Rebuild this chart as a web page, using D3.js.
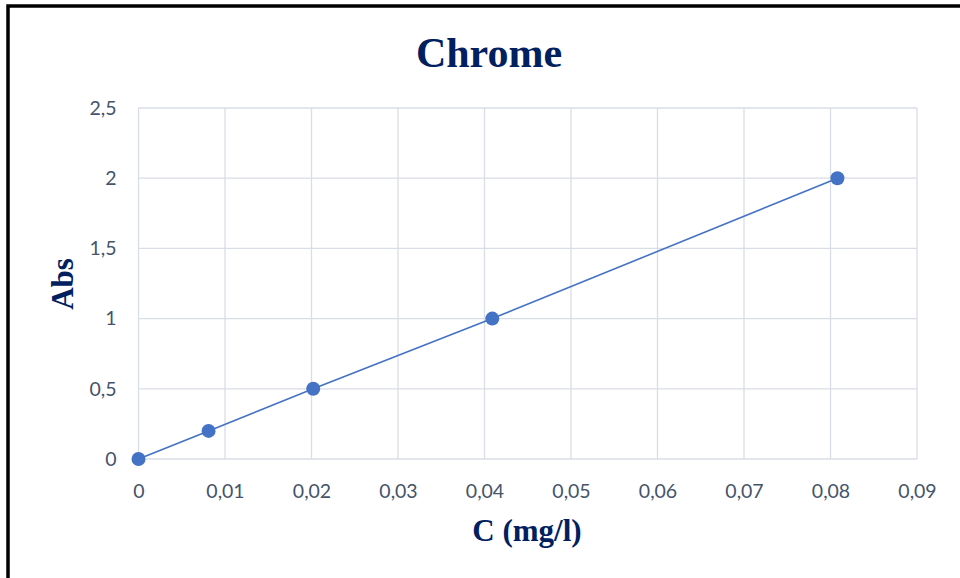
<!DOCTYPE html>
<html>
<head>
<meta charset="utf-8">
<script src="https://cdn.jsdelivr.net/npm/d3@7"></script>
<style>
  html, body { margin: 0; padding: 0; background: #fff; }
  svg { display: block; }
</style>
</head>
<body>
<script>
// Calibration data for chromium
const concentrations = [0, 0.0081, 0.0202, 0.0409, 0.0808];
const absorbances = [0, 0.2, 0.5, 1, 2];
const xTicks = [0, 0.01, 0.02, 0.03, 0.04, 0.05, 0.06, 0.07, 0.08, 0.09];
const yTicks = [0, 0.5, 1, 1.5, 2, 2.5];

const W = 960, H = 578;
const svg = d3.select("body").append("svg").attr("width", W).attr("height", H);

// Outer frame (runs past the right and bottom edges)
svg.append("rect").attr("x", 8).attr("y", 6).attr("width", W + 20).attr("height", H + 20)
  .attr("fill", "none").attr("stroke", "#000").attr("stroke-width", 3.5);

const x = d3.scaleLinear().domain([0, 0.09]).range([138.5, 917]);
const y = d3.scaleLinear().domain([0, 2.5]).range([459, 108]);

const fmt = d => String(+d.toFixed(2)).replace(".", ",");
const gridColor = "#d9dde6";
const textColor = "#44546a";
const font = "Lato, 'Open Sans', sans-serif";

// Gridlines
svg.append("g").selectAll("line").data(xTicks).join("line")
  .attr("x1", d => x(d)).attr("x2", d => x(d))
  .attr("y1", y(2.5)).attr("y2", y(0))
  .attr("stroke", gridColor).attr("stroke-width", 1.3);
svg.append("g").selectAll("line").data(yTicks).join("line")
  .attr("x1", x(0)).attr("x2", x(0.09))
  .attr("y1", d => y(d)).attr("y2", d => y(d))
  .attr("stroke", gridColor).attr("stroke-width", 1.3);

// Axes (labels only)
const xAxis = svg.append("g").attr("transform", `translate(0,${y(0)})`)
  .call(d3.axisBottom(x).tickValues(xTicks).tickFormat(fmt).tickSize(0).tickPadding(25));
const yAxis = svg.append("g").attr("transform", `translate(${x(0)},0)`)
  .call(d3.axisLeft(y).tickValues(yTicks).tickFormat(fmt).tickSize(0).tickPadding(22));
[xAxis, yAxis].forEach(a => {
  a.select(".domain").remove();
  a.selectAll("text").attr("fill", textColor).style("font-family", font).style("font-size", "19.5px");
});

// Series line and markers
const line = d3.line().x((d, i) => x(concentrations[i])).y(d => y(d));
svg.append("path").datum(absorbances).attr("d", line)
  .attr("fill", "none").attr("stroke", "#4472c4").attr("stroke-width", 1.6);
svg.append("g").selectAll("circle").data(absorbances).join("circle")
  .attr("cx", (d, i) => x(concentrations[i])).attr("cy", d => y(d)).attr("r", 7)
  .attr("fill", "#4472c4");

// Titles
const titleColor = "#002060";
const serif = "'Liberation Serif', 'Times New Roman', serif";
svg.append("text").attr("x", 489).attr("y", 67).attr("text-anchor", "middle")
  .attr("fill", titleColor).style("font-family", serif)
  .style("font-weight", "bold").style("font-size", "42px").text("Chrome");
svg.append("text").attr("x", 527).attr("y", 541).attr("text-anchor", "middle")
  .attr("fill", titleColor).style("font-family", serif)
  .style("font-weight", "bold").style("font-size", "31px").text("C (mg/l)");
svg.append("text").attr("transform", "translate(73,284) rotate(-90)").attr("text-anchor", "middle")
  .attr("fill", titleColor).style("font-family", serif)
  .style("font-weight", "bold").style("font-size", "31px").text("Abs");
</script>
</body>
</html>
